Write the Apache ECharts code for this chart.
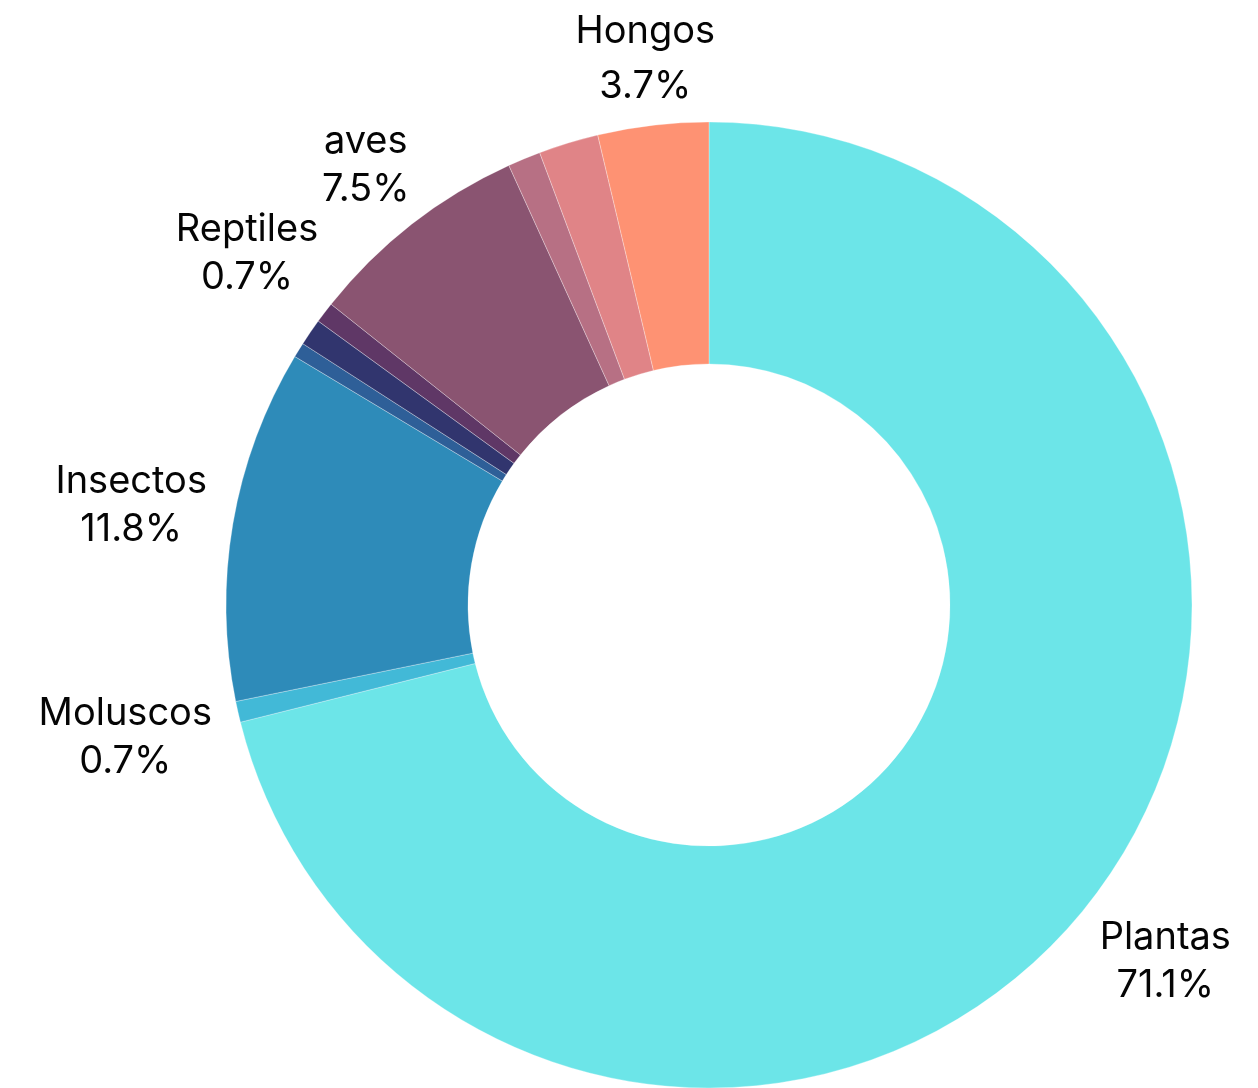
<!DOCTYPE html>
<html><head><meta charset="utf-8">
<script src="https://cdn.jsdelivr.net/npm/echarts@6/dist/echarts.min.js"></script>
<style>html,body{margin:0;padding:0;background:#fff}#c{width:1258px;height:1088px}</style>
</head><body><div id="c"></div>
<script>
const categories = ['Plantas','Moluscos','Insectos','Anfibios','Peces','Reptiles','aves','Mamíferos','Arácnidos','Hongos'];
const values = [71.1, 0.7, 11.8, 0.5, 0.9, 0.7, 7.5, 1.1, 2.0, 3.7];
const colors = ['#6ce5e8','#42b9d7','#2e8bb9','#2e5f98','#31356e','#5f3766','#8a5471','#b77084','#e08487','#fe9273'];
const labelled = [true, true, true, false, false, true, true, false, false, true];

const CX = 709, CY = 605, R0 = 241, R = 483, PADX = 26, PADY = 11;
const total = values.reduce((a, b) => a + b, 0);
const mids = [];
let cum = 0;
values.forEach(v => { mids.push((cum + v / 2) / total * 2 * Math.PI); cum += v; });

const chart = echarts.init(document.getElementById('c'));
chart.setOption({
  animation: false,
  series: [{
    type: 'pie',
    center: [CX, CY],
    radius: [R0, R],
    startAngle: 90,
    clockwise: true,
    avoidLabelOverlap: false,
    percentPrecision: 1,
    label: {
      show: true, position: 'outside', formatter: '{b}\n{d}%',
      fontFamily: 'Inter', fontSize: 38, lineHeight: 48, color: '#050505'
    },
    labelLine: { show: false },
    itemStyle: { borderColor: 'rgba(255,255,255,0.6)', borderWidth: 0.5 },
    emphasis: { disabled: true },
    data: categories.map((n, i) => ({
      name: n, value: values[i],
      itemStyle: { color: colors[i] },
      label: labelled[i] ? (n === 'Hongos' ? { lineHeight: 55 } : {}) : { show: false }
    })),
    labelLayout: function (p) {
      const m = mids[p.dataIndex];
      const dx = Math.sin(m), dy = -Math.cos(m);
      const w = p.labelRect.width, h = p.labelRect.height;
      const tx = Math.abs(dx) > 1e-6 ? (w / 2 + PADX) / Math.abs(dx) : Infinity;
      const ty = Math.abs(dy) > 1e-6 ? (h / 2 + PADY) / Math.abs(dy) : Infinity;
      const t = Math.min(tx, ty);
      return { x: CX + (R + t) * dx, y: CY + (R + t) * dy, align: 'center', verticalAlign: 'middle' };
    }
  }]
});
</script>
</body></html>
